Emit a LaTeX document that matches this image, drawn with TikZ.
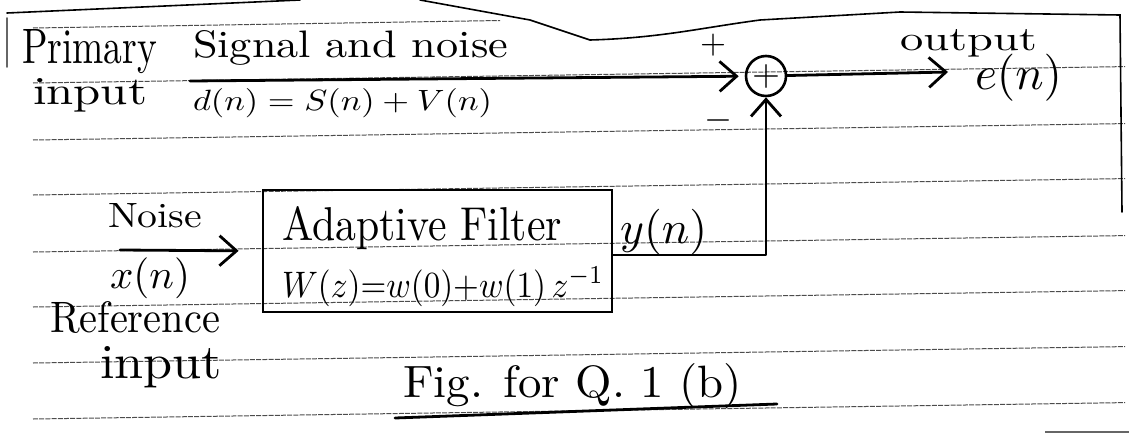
\documentclass[tikz,border=0pt]{standalone}
\usepackage{graphicx}
\usetikzlibrary{arrows.meta}
\tikzset{
  wire/.style={line width=2.8pt, line cap=round, line join=round},
  harrow/.style={wire, -{Straight Barb[length=17pt,width=30pt,line width=2.8pt]}},
  ruled/.style={black!70, line width=1pt, dash pattern=on 5pt off 1.2pt},
  pageedge/.style={line width=1.6pt, line cap=round},
  lab/.style={anchor=base west, inner sep=0pt, outer sep=0pt},
  sign/.style={inner sep=0pt, outer sep=0pt},
  sumnode/.style={circle, draw, line width=2.6pt, minimum size=40pt, inner sep=0pt},
  boxnode/.style={draw, line width=2.8pt, minimum width=349pt, minimum height=122pt, inner sep=0pt},
}
\newcommand{\fw}[2]{\resizebox{#1pt}{!}{#2}}
\newcommand{\fwh}[3]{\resizebox{#1pt}{#2pt}{#3}}
\begin{document}
\begin{tikzpicture}[x=1pt,y=-1pt]
\useasboundingbox (0,0) rectangle (1129,434);
% ruled lines of the paper
\foreach \yy in {83,140,195,252,307,363,419} \draw[ruled] (33,\yy) -- (1125,{\yy-16.4});
\draw[ruled] (33,28) -- (500,20.5);
% page edges
\draw[pageedge] (7,13) -- (300,0);
\draw[pageedge] (420,0) -- (530,20) -- (590,40) .. controls (660,38) and (700,28) .. (760,20) -- (900,12) -- (1120,15) -- (1122,212);
\draw[pageedge, black!60] (7,18) -- (7,67);
\draw[black!60, line width=2.5pt] (1045,432) -- (1129,432);
% blocks
\node[sumnode] (sum) at (766,76) {\fw{28}{$+$}};
\node[boxnode] (filt) at (437.5,251) {};
\coordinate (pin) at (190,81);
\coordinate (eout) at (948,72);
\coordinate (nin) at (120,250);
\coordinate (yc) at (766,255);
% connectors
\draw[harrow, shorten >=6pt] (pin) -- (sum);
\draw[harrow] (sum) -- (eout);
\draw[harrow, shorten >=23pt] (nin) -- (filt.west);
\draw[harrow] (filt.east |- yc) -- (yc) -- (sum);
% labels
\node[lab] (primary) at (22,63) {\fwh{135}{34}{Primary}};
\node[lab] (pinput) at (33,104) {\fwh{114}{26}{input}};
\node[lab] (sig) at (193,57) {\fwh{315}{27}{Signal and noise}};
\node[lab] (deq) at (193,110) {\fwh{299}{22}{$d(n) = S(n) + V(n)$}};
\node[sign] (plus) at (713,45) {\fw{26}{$+$}};
\node[sign] (minus) at (718,120) {\fw{28}{$-$}};
\node[lab] (outl) at (900,50) {\fwh{137}{21}{output}};
\node[lab] (en) at (975,89) {\fw{87}{$e(n)$}};
\node[lab] (noise) at (108,227) {\fwh{94}{24}{Noise}};
\node[lab] (xn) at (110,288) {\fw{80}{$x(n)$}};
\node[lab] (ref) at (50,332) {\fwh{170}{31}{Reference}};
\node[lab] (rinput) at (100,378) {\fwh{122}{32}{input}};
\node[lab] (af) at (282,240) {\fwh{280}{34}{Adaptive Filter}};
\node[lab] (wz) at (282,297) {\fwh{322}{30}{$W(z){=}w(0){+}w(1)\,z^{-1}$}};
\node[lab] (yn) at (620,243) {\fw{87}{$y(n)$}};
\node[lab] (fig) at (403,397) {\fwh{339}{34}{Fig. for Q. 1 (b)}};
\draw[wire] (395,418) -- (777,404);
\end{tikzpicture}
\end{document}
